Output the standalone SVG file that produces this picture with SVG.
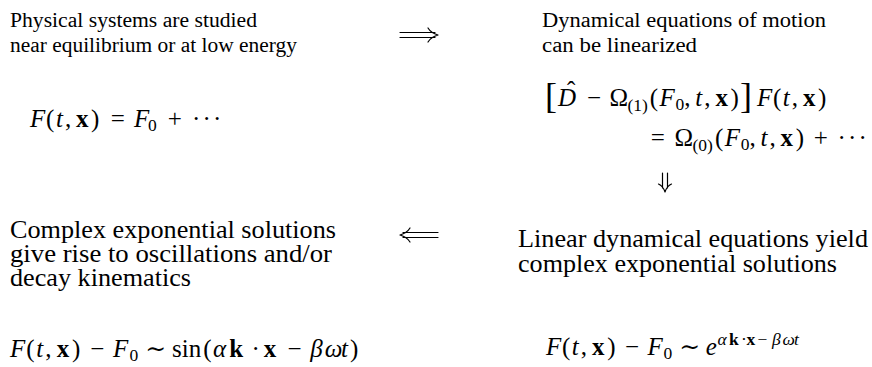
<svg xmlns="http://www.w3.org/2000/svg" width="872" height="367" viewBox="0 0 872 367">
<style>
text{font-family:"Liberation Serif","DejaVu Serif",serif;fill:#000}
.t1{font-size:20.5px}
.t2{font-size:24.5px}
.m{font-size:25px}
.i{font-style:italic}
.b{font-weight:bold}
.s{font-size:17.5px}
.br{font-size:36px}
.conn path{fill:none;stroke:#000;stroke-width:1.2;stroke-linecap:round;stroke-linejoin:round}
</style>
<rect width="872" height="367" fill="#fff"/>
<g id="node-equilibrium">
<text class="t1" x="10" y="27" textLength="247" lengthAdjust="spacingAndGlyphs">Physical systems are studied</text>
<text class="t1" x="10" y="52" textLength="287" lengthAdjust="spacingAndGlyphs">near equilibrium or at low energy</text>
<text class="m"><tspan class="i" x="30" y="127">F</tspan><tspan x="46" y="127">(</tspan><tspan class="i" x="56" y="127">t</tspan><tspan x="65" y="127">,</tspan><tspan class="b" x="76" y="127">x</tspan><tspan x="91" y="127">)</tspan><tspan x="110.7" y="127">=</tspan><tspan class="i" x="134" y="127">F</tspan><tspan class="s" x="148" y="131">0</tspan><tspan x="167.7" y="127">+</tspan><tspan x="192" y="127">·</tspan><tspan x="202.5" y="127">·</tspan><tspan x="213" y="127">·</tspan></text>
</g>
<g id="node-linearized">
<text class="t1" x="542" y="27" textLength="284" lengthAdjust="spacingAndGlyphs">Dynamical equations of motion</text>
<text class="t1" x="542" y="52" textLength="155" lengthAdjust="spacingAndGlyphs">can be linearized</text>
<text class="br" x="545" y="107.5">[</text>
<text class="br" x="740" y="107.5">]</text>
<text class="m"><tspan class="i" x="558" y="106">D</tspan><tspan x="567" y="99">ˆ</tspan><tspan x="587" y="106">−</tspan><tspan x="609.4" y="106">Ω</tspan><tspan class="s" x="627.4" y="111">(1)</tspan><tspan x="649.8" y="106">(</tspan><tspan class="i" x="659.5" y="106">F</tspan><tspan class="s" x="675.6" y="110">0</tspan><tspan x="684.3" y="106">,</tspan><tspan class="i" x="695.2" y="106">t</tspan><tspan x="704.2" y="106">,</tspan><tspan class="b" x="715.4" y="106">x</tspan><tspan x="730.6" y="106">)</tspan><tspan class="i" x="757" y="106">F</tspan><tspan x="773" y="106">(</tspan><tspan class="i" x="782.8" y="106">t</tspan><tspan x="791.8" y="106">,</tspan><tspan class="b" x="803" y="106">x</tspan><tspan x="818" y="106">)</tspan></text>
<text class="m"><tspan x="650.7" y="146">=</tspan><tspan x="674.5" y="146">Ω</tspan><tspan class="s" x="692.5" y="151">(0)</tspan><tspan x="715" y="146">(</tspan><tspan class="i" x="724.7" y="146">F</tspan><tspan class="s" x="740.8" y="150">0</tspan><tspan x="749.5" y="146">,</tspan><tspan class="i" x="760.4" y="146">t</tspan><tspan x="769.4" y="146">,</tspan><tspan class="b" x="780.6" y="146">x</tspan><tspan x="795.8" y="146">)</tspan><tspan x="813.7" y="146">+</tspan><tspan x="837.5" y="146">·</tspan><tspan x="848" y="146">·</tspan><tspan x="858.5" y="146">·</tspan></text>
</g>
<g id="node-exponential">
<text class="t2" x="518" y="247" textLength="350" lengthAdjust="spacingAndGlyphs">Linear dynamical equations yield</text>
<text class="t2" x="518" y="272" textLength="319" lengthAdjust="spacingAndGlyphs">complex exponential solutions</text>
<text class="m"><tspan class="i" x="546" y="355">F</tspan><tspan x="562.1" y="355">(</tspan><tspan class="i" x="571.8" y="355">t</tspan><tspan x="580.8" y="355">,</tspan><tspan class="b" x="592" y="355">x</tspan><tspan x="607.2" y="355">)</tspan><tspan x="625.1" y="355">−</tspan><tspan class="i" x="647.5" y="355">F</tspan><tspan class="s" x="663.6" y="359">0</tspan><tspan x="679.3" y="355">∼</tspan><tspan class="i" x="705.8" y="355">e</tspan><tspan class="s i" x="717.5" y="345">α</tspan><tspan class="s b" x="729" y="345">k</tspan><tspan class="s" x="741" y="345">·</tspan><tspan class="s b" x="746.5" y="345">x</tspan><tspan class="s" x="757.5" y="345">−</tspan><tspan class="s i" x="772" y="345">β</tspan><tspan class="s i" x="782.5" y="345">ω</tspan><tspan class="s i" x="794" y="345">t</tspan></text>
</g>
<g id="node-oscillations">
<text class="t2" x="10" y="238" textLength="326" lengthAdjust="spacingAndGlyphs">Complex exponential solutions</text>
<text class="t2" x="10" y="262" textLength="322" lengthAdjust="spacingAndGlyphs">give rise to oscillations and/or</text>
<text class="t2" x="10" y="286" textLength="181" lengthAdjust="spacingAndGlyphs">decay kinematics</text>
<text class="m"><tspan class="i" x="10" y="357">F</tspan><tspan x="26.3" y="357">(</tspan><tspan class="i" x="36.2" y="357">t</tspan><tspan x="45.3" y="357">,</tspan><tspan class="b" x="56.7" y="357">x</tspan><tspan x="72.1" y="357">)</tspan><tspan x="90.3" y="357">−</tspan><tspan class="i" x="113" y="357">F</tspan><tspan class="s" x="129.4" y="361">0</tspan><tspan x="145.2" y="357">∼</tspan><tspan x="172" y="357">sin</tspan><tspan x="203.2" y="357">(</tspan><tspan class="i" x="213" y="357">α</tspan><tspan class="b" x="229.2" y="357">k</tspan><tspan x="251.4" y="357">·</tspan><tspan class="b" x="263.8" y="357">x</tspan><tspan x="287.6" y="357">−</tspan><tspan class="i" x="310.2" y="357">β</tspan><tspan class="i" x="324.7" y="357">ω</tspan><tspan class="i" x="341" y="357">t</tspan><tspan x="350" y="357">)</tspan></text>
</g>
<g id="connectors" class="conn">
<path d="M400 32.5H435M400 37.5H435M428 28Q431 33 438 35Q431 37 428 42"/>
<path d="M662.5 173V188M667.5 173V188M658.5 184Q663 186 665 192Q667 186 671.5 184"/>
<path d="M403 232.5H438M403 237.5H438M410 228Q407 233 400 235Q407 237 410 242"/>
</g>
</svg>
